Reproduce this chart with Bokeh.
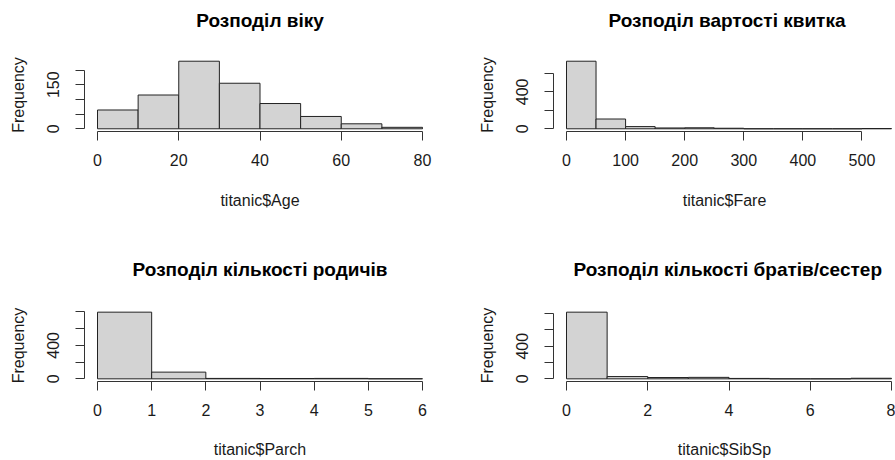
from bokeh.plotting import figure
from bokeh.models import FixedTicker, Range1d
from bokeh.layouts import column, row
from bokeh.embed import file_html
from bokeh.resources import INLINE

# ---------------- data ----------------
age_breaks = [0, 10, 20, 30, 40, 50, 60, 70, 80]
age_counts = [64, 115, 230, 155, 86, 42, 17, 5]

fare_breaks = [0, 50, 100, 150, 200, 250, 300, 350, 400, 450, 500, 550]
fare_counts = [732, 106, 24, 9, 11, 6, 0, 0, 0, 0, 3]

parch_breaks = [0, 1, 2, 3, 4, 5, 6]
parch_counts = [796, 80, 5, 4, 5, 1]

sibsp_breaks = [0, 1, 2, 3, 4, 5, 6, 7, 8]
sibsp_counts = [817, 28, 16, 18, 5, 0, 0, 7]

titles = ["Розподіл віку", "Розподіл вартості квитка",
          "Розподіл кількості родичів", "Розподіл кількості братів/сестер"]
xlabels = ["titanic$Age", "titanic$Fare", "titanic$Parch", "titanic$SibSp"]
ylabel = "Frequency"

age_xticks = [0, 20, 40, 60, 80]
fare_xticks = [0, 100, 200, 300, 400, 500]
parch_xticks = [0, 1, 2, 3, 4, 5, 6]
sibsp_xticks = [0, 2, 4, 6, 8]

age_yticks_labeled = [0, 150]
age_yticks_other = [50, 100, 200]
fare_yticks_labeled = [0, 400]
fare_yticks_other = [200, 600]
parch_yticks_labeled = [0, 400]
parch_yticks_other = [200, 600, 800]
sibsp_yticks_labeled = [0, 400]
sibsp_yticks_other = [200, 600, 800]

# ---------------- styling ----------------
FONT = "Liberation Sans"
AXIS_COL = "#333333"
TEXT_COL = "#1a1a1a"
FULL_FRAME_W = 351


def panel(breaks, counts, title, xlabel, xticks, ylab, yoth,
          width, height, mb_left, mb_right, mb_top, mb_bottom,
          title_align, title_offset, title_lift, xlab_standoff):
    frame_w = width - mb_left - mb_right
    lo, hi = breaks[0], breaks[-1]
    pad = 0.04 * (hi - lo)
    xs = lo - pad
    xe_full = hi + pad
    xe = xs + (xe_full - xs) * frame_w / FULL_FRAME_W
    ymax = max(counts)
    p = figure(width=width, height=height, output_backend="svg",
               toolbar_location=None,
               x_range=Range1d(xs, xe), y_range=Range1d(-0.04 * ymax, 1.04 * ymax),
               min_border_left=mb_left, min_border_right=mb_right,
               min_border_top=mb_top, min_border_bottom=mb_bottom)
    p.outline_line_color = None
    p.grid.visible = False
    p.background_fill_color = "white"
    p.border_fill_color = "white"

    p.quad(left=breaks[:-1], right=breaks[1:], bottom=0, top=counts,
           fill_color="#D3D3D3", line_color="#222222", line_width=1)

    # x axis
    xa = p.xaxis[0]
    xa.ticker = FixedTicker(ticks=xticks, minor_ticks=[])
    xa.bounds = (xticks[0], xticks[-1])
    xa.major_tick_out = 9
    xa.major_tick_in = 0
    xa.minor_tick_out = 0
    xa.axis_line_color = AXIS_COL
    xa.major_tick_line_color = AXIS_COL
    xa.major_label_text_font = FONT
    xa.major_label_text_font_size = "16px"
    xa.major_label_text_color = TEXT_COL
    xa.major_label_standoff = 13
    xa.axis_label = xlabel
    xa.axis_label_text_font = FONT
    xa.axis_label_text_font_size = "16px"
    xa.axis_label_text_font_style = "normal"
    xa.axis_label_text_color = TEXT_COL
    xa.axis_label_standoff = xlab_standoff

    # y axis
    ya = p.yaxis[0]
    ya.ticker = FixedTicker(ticks=ylab, minor_ticks=yoth)
    alltk = sorted(ylab + yoth)
    ya.bounds = (alltk[0], alltk[-1])
    ya.major_tick_out = 9
    ya.major_tick_in = 0
    ya.minor_tick_out = 9
    ya.minor_tick_in = 0
    ya.axis_line_color = AXIS_COL
    ya.major_tick_line_color = AXIS_COL
    ya.minor_tick_line_color = AXIS_COL
    ya.major_label_orientation = "vertical"
    ya.major_label_text_font = FONT
    ya.major_label_text_font_size = "16px"
    ya.major_label_text_color = TEXT_COL
    ya.major_label_standoff = 16
    ya.axis_label = ylabel
    ya.axis_label_text_font = FONT
    ya.axis_label_text_font_size = "16px"
    ya.axis_label_text_font_style = "normal"
    ya.axis_label_text_color = TEXT_COL
    ya.axis_label_standoff = 18

    # title
    p.title.text = title
    p.title.text_font = FONT
    p.title.text_font_size = "19px"
    p.title.text_font_style = "bold"
    p.title.text_color = "#000000"
    p.title.align = title_align
    p.title.offset = title_offset
    p.title.padding = dict(left=0, right=0, top=0, bottom=title_lift)
    return p


p1 = panel(age_breaks, age_counts, titles[0], xlabels[0], age_xticks,
           age_yticks_labeled, age_yticks_other,
           470, 250, 84, 35, 58, 119, "center", 0, 23, 23)
p2 = panel(fare_breaks, fare_counts, titles[1], xlabels[1], fare_xticks,
           fare_yticks_labeled, fare_yticks_other,
           425, 250, 83, 0, 58, 119, "left", 55, 23, 23)
p3 = panel(parch_breaks, parch_counts, titles[2], xlabels[2], parch_xticks,
           parch_yticks_labeled, parch_yticks_other,
           470, 210, 84, 35, 59, 78, "center", 0, 25, 22)
p4 = panel(sibsp_breaks, sibsp_counts, titles[3], xlabels[3], sibsp_xticks,
           sibsp_yticks_labeled, sibsp_yticks_other,
           425, 210, 83, 0, 59, 78, "left", 20, 25, 22)

layout = column(row(p1, p2), row(p3, p4))
open("out.html", "w").write(file_html(layout, INLINE))
